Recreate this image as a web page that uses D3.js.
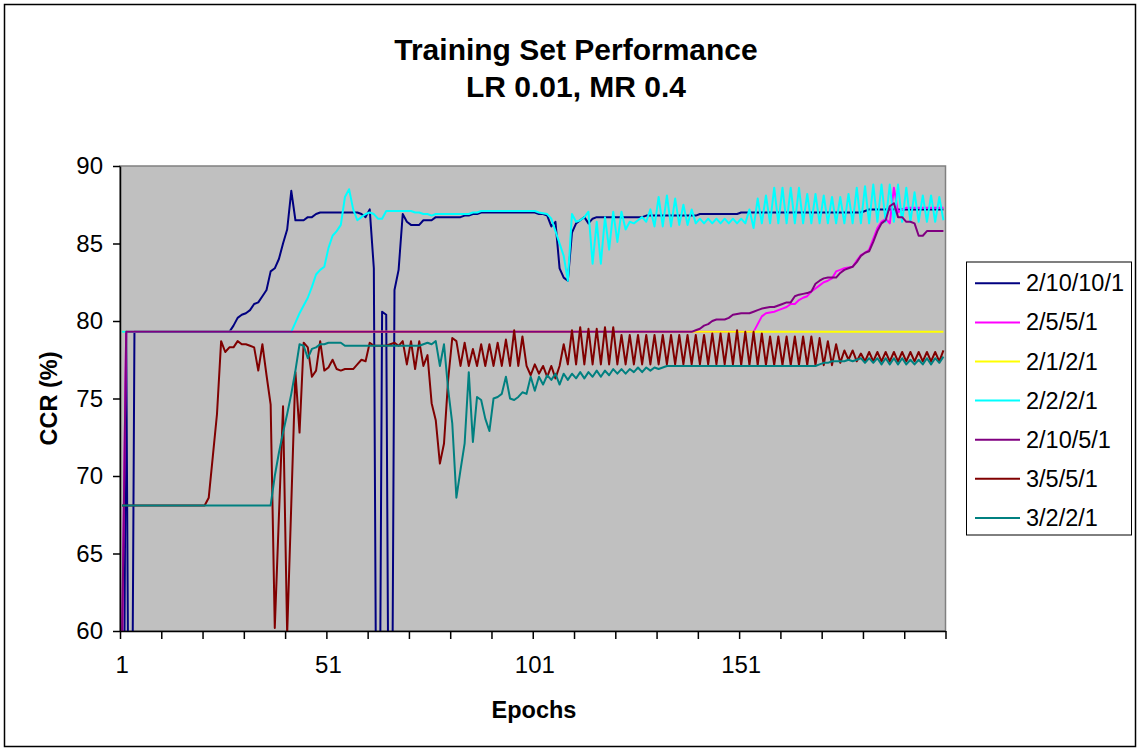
<!DOCTYPE html>
<html>
<head>
<meta charset="utf-8">
<script src="https://cdn.jsdelivr.net/npm/d3@7"></script>
<style>
body { margin: 0; background: #fff; }
text { font-family: "Liberation Sans", Arial, sans-serif; }
</style>
</head>
<body>
<div id="chart"></div>
<script>
var titleLines = ["Training Set Performance", "LR 0.01, MR 0.4"];
var seriesNames = ["2/10/10/1", "2/5/5/1", "2/1/2/1", "2/2/2/1", "2/10/5/1", "3/5/5/1", "3/2/2/1"];
var seriesColors = ["#000080", "#ff00ff", "#ffff00", "#00ffff", "#800080", "#800000", "#008080"];
var yTicks = [60, 65, 70, 75, 80, 85, 90];
var xLabels = [1, 51, 101, 151];
var xTickMarks = [0, 10, 20, 30, 40, 50, 60, 70, 80, 90, 100, 110, 120, 130, 140, 150, 160, 170, 180, 190, 200];

// CCR (%) per epoch, epochs 1..200
var net_2_10_10_1 = [
  31.9, 79.3, 31.9, 79.3, 79.3, 79.3, 79.3, 79.3, 79.3, 79.3,
  79.3, 79.3, 79.3, 79.3, 79.3, 79.3, 79.3, 79.3, 79.3, 79.3,
  79.3, 79.3, 79.3, 79.3, 79.3, 79.3, 79.3, 79.7, 80.2, 80.4,
  80.5, 80.7, 81.1, 81.2, 81.6, 82.0, 83.2, 83.4, 84.0, 85.0,
  85.9, 88.4, 86.5, 86.5, 86.5, 86.7, 86.7, 86.9, 87.0, 87.0,
  87.0, 87.0, 87.0, 87.0, 87.0, 87.0, 87.0, 87.0, 86.9, 86.7,
  87.2, 83.4, 31.9, 80.6, 80.4, 31.9, 82.0, 83.3, 86.9, 86.4,
  86.2, 86.2, 86.2, 86.5, 86.5, 86.5, 86.7, 86.7, 86.7, 86.7,
  86.7, 86.7, 86.7, 86.8, 86.8, 86.9, 86.9, 87.0, 87.0, 87.0,
  87.0, 87.0, 87.0, 87.0, 87.0, 87.0, 87.0, 87.0, 87.0, 87.0,
  87.0, 86.9, 86.9, 86.8, 86.1, 86.4, 83.4, 82.8, 82.6, 85.7,
  86.3, 86.5, 86.7, 86.3, 86.6, 86.7, 86.7, 86.7, 86.7, 86.7,
  86.7, 86.7, 86.7, 86.7, 86.7, 86.7, 86.7, 86.8, 86.8, 86.8,
  86.8, 86.8, 86.8, 86.8, 86.8, 86.8, 86.8, 86.8, 86.8, 86.8,
  86.9, 86.9, 86.9, 86.9, 86.9, 86.9, 86.9, 86.9, 86.9, 86.9,
  87.0, 87.0, 87.0, 87.0, 87.0, 87.0, 87.0, 87.0, 87.0, 87.0,
  87.0, 87.0, 87.0, 87.0, 87.0, 87.0, 87.0, 87.0, 87.0, 87.0,
  87.0, 87.0, 87.0, 87.0, 87.0, 87.0, 87.0, 87.0, 87.0, 87.0,
  87.1, 87.2, 87.2, 87.2, 87.2, 87.2, 87.2, 87.2, 87.2, 87.2,
  87.2, 87.2, 87.2, 87.2, 87.2, 87.2, 87.2, 87.2, 87.2, 87.2
];

var net_2_5_5_1 = [
  59.5, 79.3, 79.3, 79.3, 79.3, 79.3, 79.3, 79.3, 79.3, 79.3,
  79.3, 79.3, 79.3, 79.3, 79.3, 79.3, 79.3, 79.3, 79.3, 79.3,
  79.3, 79.3, 79.3, 79.3, 79.3, 79.3, 79.3, 79.3, 79.3, 79.3,
  79.3, 79.3, 79.3, 79.3, 79.3, 79.3, 79.3, 79.3, 79.3, 79.3,
  79.3, 79.3, 79.3, 79.3, 79.3, 79.3, 79.3, 79.3, 79.3, 79.3,
  79.3, 79.3, 79.3, 79.3, 79.3, 79.3, 79.3, 79.3, 79.3, 79.3,
  79.3, 79.3, 79.3, 79.3, 79.3, 79.3, 79.3, 79.3, 79.3, 79.3,
  79.3, 79.3, 79.3, 79.3, 79.3, 79.3, 79.3, 79.3, 79.3, 79.3,
  79.3, 79.3, 79.3, 79.3, 79.3, 79.3, 79.3, 79.3, 79.3, 79.3,
  79.3, 79.3, 79.3, 79.3, 79.3, 79.3, 79.3, 79.3, 79.3, 79.3,
  79.3, 79.3, 79.3, 79.3, 79.3, 79.3, 79.3, 79.3, 79.3, 79.3,
  79.3, 79.3, 79.3, 79.3, 79.3, 79.3, 79.3, 79.3, 79.3, 79.3,
  79.3, 79.3, 79.3, 79.3, 79.3, 79.3, 79.3, 79.3, 79.3, 79.3,
  79.3, 79.3, 79.3, 79.3, 79.3, 79.3, 79.3, 79.3, 79.3, 79.3,
  79.3, 79.3, 79.3, 79.3, 79.3, 79.3, 79.3, 79.3, 79.3, 79.3,
  79.3, 79.3, 79.3, 79.3, 79.8, 80.3, 80.5, 80.55, 80.6, 80.7,
  80.8, 80.9, 81.1, 81.1, 81.35, 81.5, 81.6, 81.9, 82.1, 82.3,
  82.5, 82.6, 82.75, 83.2, 83.3, 83.4, 83.45, 83.5, 83.9, 84.25,
  84.4, 84.6, 85.3, 86.0, 86.4, 86.6, 86.3, 88.6, 87.0, 87.2,
  87.3, 87.3, 87.3, 87.3, 87.3, 87.3, 87.3, 87.3, 87.3, 87.3
];

var net_2_1_2_1 = [
  79.3, 79.3, 79.3, 79.3, 79.3, 79.3, 79.3, 79.3, 79.3, 79.3,
  79.3, 79.3, 79.3, 79.3, 79.3, 79.3, 79.3, 79.3, 79.3, 79.3,
  79.3, 79.3, 79.3, 79.3, 79.3, 79.3, 79.3, 79.3, 79.3, 79.3,
  79.3, 79.3, 79.3, 79.3, 79.3, 79.3, 79.3, 79.3, 79.3, 79.3,
  79.3, 79.3, 79.3, 79.3, 79.3, 79.3, 79.3, 79.3, 79.3, 79.3,
  79.3, 79.3, 79.3, 79.3, 79.3, 79.3, 79.3, 79.3, 79.3, 79.3,
  79.3, 79.3, 79.3, 79.3, 79.3, 79.3, 79.3, 79.3, 79.3, 79.3,
  79.3, 79.3, 79.3, 79.3, 79.3, 79.3, 79.3, 79.3, 79.3, 79.3,
  79.3, 79.3, 79.3, 79.3, 79.3, 79.3, 79.3, 79.3, 79.3, 79.3,
  79.3, 79.3, 79.3, 79.3, 79.3, 79.3, 79.3, 79.3, 79.3, 79.3,
  79.3, 79.3, 79.3, 79.3, 79.3, 79.3, 79.3, 79.3, 79.3, 79.3,
  79.3, 79.3, 79.3, 79.3, 79.3, 79.3, 79.3, 79.3, 79.3, 79.3,
  79.3, 79.3, 79.3, 79.3, 79.3, 79.3, 79.3, 79.3, 79.3, 79.3,
  79.3, 79.3, 79.3, 79.3, 79.3, 79.3, 79.3, 79.3, 79.3, 79.3,
  79.3, 79.3, 79.3, 79.3, 79.3, 79.3, 79.3, 79.3, 79.3, 79.3,
  79.3, 79.3, 79.3, 79.3, 79.3, 79.3, 79.3, 79.3, 79.3, 79.3,
  79.3, 79.3, 79.3, 79.3, 79.3, 79.3, 79.3, 79.3, 79.3, 79.3,
  79.3, 79.3, 79.3, 79.3, 79.3, 79.3, 79.3, 79.3, 79.3, 79.3,
  79.3, 79.3, 79.3, 79.3, 79.3, 79.3, 79.3, 79.3, 79.3, 79.3,
  79.3, 79.3, 79.3, 79.3, 79.3, 79.3, 79.3, 79.3, 79.3, 79.3
];

var net_2_2_2_1 = [
  79.3, 79.3, 79.3, 79.3, 79.3, 79.3, 79.3, 79.3, 79.3, 79.3,
  79.3, 79.3, 79.3, 79.3, 79.3, 79.3, 79.3, 79.3, 79.3, 79.3,
  79.3, 79.3, 79.3, 79.3, 79.3, 79.3, 79.3, 79.3, 79.3, 79.3,
  79.3, 79.3, 79.3, 79.3, 79.3, 79.3, 79.3, 79.3, 79.3, 79.3,
  79.3, 79.3, 79.9, 80.5, 81.0, 81.5, 82.2, 83.0, 83.3, 83.5,
  84.7, 85.5, 85.8, 86.2, 88.0, 88.5, 87.2, 86.5, 86.7, 86.9,
  87.0, 86.9, 86.6, 86.6, 87.1, 87.1, 87.1, 87.1, 87.1, 87.1,
  87.1, 87.0, 87.0, 86.9, 86.9, 86.8, 86.9, 86.9, 86.9, 86.9,
  86.9, 86.9, 86.9, 86.9, 86.9, 87.0, 87.0, 87.1, 87.1, 87.1,
  87.1, 87.1, 87.1, 87.1, 87.1, 87.1, 87.1, 87.1, 87.1, 87.1,
  87.1, 87.0, 86.95, 86.9, 86.6, 85.8, 85.0, 84.2, 82.6, 86.9,
  86.4, 86.5, 86.7, 87.05, 83.7, 86.4, 83.7, 86.7, 84.6, 87.05,
  85.1, 87.05, 85.9, 86.4, 86.3, 86.5, 86.7, 86.4, 87.2, 86.1,
  88.0, 86.1, 88.1, 86.1, 87.9, 86.2, 87.5, 86.2, 87.2, 86.3,
  86.6, 86.3, 86.6, 86.3, 86.6, 86.3, 86.6, 86.3, 86.6, 86.3,
  86.6, 86.3, 87.2, 86.0, 87.9, 86.3, 88.1, 86.3, 88.6, 86.3,
  88.6, 86.3, 88.6, 86.3, 88.6, 86.3, 88.2, 86.3, 88.2, 86.3,
  88.1, 86.3, 88.0, 86.3, 88.0, 86.3, 88.2, 86.3, 88.6, 86.3,
  88.7, 86.3, 88.8, 86.4, 88.8, 86.4, 88.8, 86.4, 88.8, 86.4,
  88.6, 86.4, 88.3, 86.4, 88.1, 86.4, 88.1, 86.4, 88.0, 86.5
];

var net_2_10_5_1 = [
  59.0, 79.3, 79.3, 79.3, 79.3, 79.3, 79.3, 79.3, 79.3, 79.3,
  79.3, 79.3, 79.3, 79.3, 79.3, 79.3, 79.3, 79.3, 79.3, 79.3,
  79.3, 79.3, 79.3, 79.3, 79.3, 79.3, 79.3, 79.3, 79.3, 79.3,
  79.3, 79.3, 79.3, 79.3, 79.3, 79.3, 79.3, 79.3, 79.3, 79.3,
  79.3, 79.3, 79.3, 79.3, 79.3, 79.3, 79.3, 79.3, 79.3, 79.3,
  79.3, 79.3, 79.3, 79.3, 79.3, 79.3, 79.3, 79.3, 79.3, 79.3,
  79.3, 79.3, 79.3, 79.3, 79.3, 79.3, 79.3, 79.3, 79.3, 79.3,
  79.3, 79.3, 79.3, 79.3, 79.3, 79.3, 79.3, 79.3, 79.3, 79.3,
  79.3, 79.3, 79.3, 79.3, 79.3, 79.3, 79.3, 79.3, 79.3, 79.3,
  79.3, 79.3, 79.3, 79.3, 79.3, 79.3, 79.3, 79.3, 79.3, 79.3,
  79.3, 79.3, 79.3, 79.3, 79.3, 79.3, 79.3, 79.3, 79.3, 79.3,
  79.3, 79.3, 79.3, 79.3, 79.3, 79.3, 79.3, 79.3, 79.3, 79.3,
  79.3, 79.3, 79.3, 79.3, 79.3, 79.3, 79.3, 79.3, 79.3, 79.3,
  79.3, 79.3, 79.3, 79.3, 79.3, 79.3, 79.3, 79.3, 79.3, 79.4,
  79.5, 79.7, 79.8, 80.0, 80.1, 80.1, 80.1, 80.2, 80.4, 80.45,
  80.5, 80.5, 80.5, 80.6, 80.7, 80.8, 80.85, 80.9, 80.9, 81.0,
  81.1, 81.2, 81.2, 81.6, 81.7, 81.75, 81.8, 81.9, 82.4, 82.6,
  82.75, 82.8, 82.8, 82.8, 83.1, 83.3, 83.4, 83.5, 83.8, 84.2,
  84.4, 84.5, 85.1, 85.8, 86.3, 86.5, 87.4, 87.6, 86.7, 86.7,
  86.4, 86.4, 86.3, 85.5, 85.5, 85.8, 85.8, 85.8, 85.8, 85.8
];

var net_3_5_5_1 = [
  68.1, 68.1, 68.1, 68.1, 68.1, 68.1, 68.1, 68.1, 68.1, 68.1,
  68.1, 68.1, 68.1, 68.1, 68.1, 68.1, 68.1, 68.1, 68.1, 68.1,
  68.1, 68.6, 71.3, 74.0, 78.7, 78.0, 78.3, 78.3, 78.7, 78.5,
  78.5, 78.4, 78.3, 76.8, 78.5, 76.5, 74.6, 60.2, 67.4, 74.5,
  59.8, 68.2, 76.7, 72.8, 78.6, 78.3, 76.4, 76.8, 78.7, 76.8,
  77.0, 77.5, 76.9, 76.8, 76.9, 76.9, 76.9, 77.2, 77.5, 77.4,
  78.6, 78.4, 78.4, 78.4, 78.4, 78.5, 78.6, 78.4, 78.7, 77.2,
  78.7, 76.9, 78.7, 77.1, 77.8, 74.7, 73.6, 70.8, 72.1, 76.2,
  78.9, 78.7, 77.1, 78.6, 77.1, 78.2, 77.1, 78.5, 77.1, 78.5,
  77.1, 78.6, 77.1, 78.8, 77.1, 79.4, 77.1, 79.0, 77.1, 76.5,
  77.2, 76.6, 77.1, 76.4, 77.1, 76.3, 77.1, 78.5, 77.2, 79.4,
  77.2, 79.6, 77.2, 79.5, 77.2, 79.5, 77.2, 79.6, 77.2, 79.6,
  77.2, 79.1, 77.2, 79.1, 77.2, 79.1, 77.2, 79.1, 77.2, 79.1,
  77.2, 79.1, 77.2, 79.1, 77.2, 79.1, 77.2, 79.1, 77.2, 79.1,
  77.2, 79.1, 77.2, 79.2, 77.2, 79.2, 77.2, 79.2, 77.2, 79.4,
  77.15, 79.3, 77.15, 79.3, 77.15, 79.2, 77.15, 79.0, 77.15, 79.0,
  77.15, 79.0, 77.15, 79.0, 77.15, 79.0, 77.15, 79.0, 77.15, 78.9,
  77.15, 78.7, 77.15, 78.5, 77.3, 78.1, 77.5, 78.1, 77.4, 77.9,
  77.4, 78.0, 77.4, 78.0, 77.4, 78.0, 77.4, 78.0, 77.4, 78.0,
  77.4, 78.0, 77.4, 78.0, 77.4, 78.0, 77.4, 78.0, 77.4, 78.1
];

var net_3_2_2_1 = [
  68.1, 68.1, 68.1, 68.1, 68.1, 68.1, 68.1, 68.1, 68.1, 68.1,
  68.1, 68.1, 68.1, 68.1, 68.1, 68.1, 68.1, 68.1, 68.1, 68.1,
  68.1, 68.1, 68.1, 68.1, 68.1, 68.1, 68.1, 68.1, 68.1, 68.1,
  68.1, 68.1, 68.1, 68.1, 68.1, 68.1, 68.1, 70.0, 71.5, 72.8,
  74.0, 75.3, 76.8, 78.5, 78.4, 77.6, 78.2, 78.3, 78.5, 78.5,
  78.6, 78.6, 78.6, 78.6, 78.4, 78.4, 78.4, 78.4, 78.4, 78.4,
  78.4, 78.4, 78.4, 78.4, 78.4, 78.4, 78.4, 78.4, 78.4, 78.4,
  78.4, 78.4, 78.4, 78.5, 78.6, 78.5, 78.7, 77.1, 78.5, 75.6,
  73.4, 68.6, 70.4, 72.1, 76.7, 72.2, 75.1, 74.9, 73.7, 72.9,
  75.0, 75.1, 75.3, 76.4, 75.0, 74.9, 75.1, 75.4, 75.3, 76.4,
  75.5, 76.4, 75.9, 76.5, 76.2, 76.6, 75.9, 76.6, 76.2, 76.6,
  76.3, 76.7, 76.3, 76.7, 76.4, 76.8, 76.4, 76.8, 76.5, 76.9,
  76.6, 76.9, 76.6, 76.9, 76.7, 77.0, 76.7, 77.0, 76.8, 77.0,
  76.9, 77.0, 77.1, 77.1, 77.1, 77.1, 77.1, 77.1, 77.1, 77.1,
  77.1, 77.1, 77.1, 77.1, 77.1, 77.1, 77.1, 77.1, 77.1, 77.1,
  77.1, 77.1, 77.1, 77.1, 77.1, 77.1, 77.1, 77.1, 77.1, 77.1,
  77.1, 77.1, 77.1, 77.1, 77.1, 77.1, 77.1, 77.1, 77.1, 77.2,
  77.3, 77.3, 77.4, 77.4, 77.4, 77.4, 77.5, 77.4, 77.5, 77.6,
  77.3, 77.6, 77.3, 77.6, 77.2, 77.6, 77.2, 77.6, 77.2, 77.6,
  77.2, 77.5, 77.2, 77.5, 77.2, 77.6, 77.2, 77.6, 77.3, 77.7
];

var seriesValues = [net_2_10_10_1, net_2_5_5_1, net_2_1_2_1, net_2_2_2_1, net_2_10_5_1, net_3_5_5_1, net_3_2_2_1];
var epochs = net_2_1_2_1.map(function(d, i) { return i + 1; });

var width = 1140, height = 750;
var plotLeft = 120, plotRight = 945.5, plotTop = 166, plotBottom = 631;

var svg = d3.select("#chart").append("svg")
  .attr("width", width)
  .attr("height", height);

// outer chart frame
svg.append("rect")
  .attr("x", 4.5).attr("y", 4.5)
  .attr("width", 1131).attr("height", 742)
  .attr("fill", "#fff")
  .attr("stroke", "#000")
  .attr("stroke-width", 1.5);

var x = d3.scaleBand().domain(epochs).range([plotLeft, plotRight]);
var xEdge = d3.scaleLinear().domain([0, 200]).range([plotLeft, plotRight]);
var y = d3.scaleLinear().domain([60, 90]).range([plotBottom, plotTop]);

svg.append("defs").append("clipPath").attr("id", "plotclip")
  .append("rect")
  .attr("x", plotLeft).attr("y", plotTop)
  .attr("width", plotRight - plotLeft).attr("height", plotBottom - plotTop);

svg.append("rect")
  .attr("x", plotLeft).attr("y", plotTop)
  .attr("width", plotRight - plotLeft).attr("height", plotBottom - plotTop)
  .attr("fill", "#c0c0c0")
  .attr("stroke", "#808080")
  .attr("stroke-width", 1.5);

// series lines
var line = d3.line()
  .x(function(d, i) { return x(epochs[i]) + x.bandwidth() / 2; })
  .y(function(d) { return y(d); });

svg.append("g").attr("clip-path", "url(#plotclip)")
  .selectAll("path")
  .data(seriesValues)
  .enter()
  .append("path")
  .attr("d", line)
  .attr("fill", "none")
  .attr("stroke", function(d, i) { return seriesColors[i]; })
  .attr("stroke-width", 2)
  .attr("stroke-linejoin", "round");

// y axis
var yAxis = svg.append("g")
  .attr("transform", "translate(" + plotLeft + ",0)")
  .call(d3.axisLeft(y).tickValues(yTicks).tickSize(7).tickSizeOuter(0).tickPadding(10));

// x axis tick marks every 10 epochs
var xTickAxis = svg.append("g")
  .attr("transform", "translate(0," + plotBottom + ")")
  .call(d3.axisBottom(xEdge).tickValues(xTickMarks).tickSize(8).tickSizeOuter(0).tickFormat(""));

// x axis labels on categories
var xLabelAxis = svg.append("g")
  .attr("transform", "translate(0," + plotBottom + ")")
  .call(d3.axisBottom(x).tickValues(xLabels).tickSize(0).tickPadding(25));
xLabelAxis.select(".domain").remove();

[yAxis, xTickAxis].forEach(function(g) {
  g.select(".domain").attr("stroke", "#000").attr("stroke-width", 1.5);
  g.selectAll(".tick line").attr("stroke", "#000").attr("stroke-width", 1.5);
});
[yAxis, xLabelAxis].forEach(function(g) {
  g.selectAll("text")
    .attr("font-family", "Liberation Sans, Arial, sans-serif")
    .attr("font-size", 24)
    .attr("fill", "#000");
});

// titles
svg.selectAll(".title")
  .data(titleLines)
  .enter()
  .append("text")
  .attr("class", "title")
  .attr("x", 576)
  .attr("y", function(d, i) { return 59.5 + i * 37; })
  .attr("text-anchor", "middle")
  .attr("font-size", 30)
  .attr("font-weight", "bold")
  .text(function(d) { return d; });

svg.append("text")
  .attr("x", 534)
  .attr("y", 718)
  .attr("text-anchor", "middle")
  .attr("font-size", 23.5)
  .attr("font-weight", "bold")
  .text("Epochs");

svg.append("text")
  .attr("transform", "translate(57," + (plotTop + plotBottom) / 2 + ") rotate(-90)")
  .attr("text-anchor", "middle")
  .attr("font-size", 23.5)
  .attr("font-weight", "bold")
  .text("CCR (%)");

// legend
var legend = svg.append("g");
legend.append("rect")
  .attr("x", 966.5).attr("y", 262)
  .attr("width", 165).attr("height", 273)
  .attr("fill", "#fff")
  .attr("stroke", "#000")
  .attr("stroke-width", 1);

var entry = legend.selectAll(".entry")
  .data(seriesNames)
  .enter()
  .append("g")
  .attr("class", "entry")
  .attr("transform", function(d, i) { return "translate(0," + (283.3 + i * 39.1) + ")"; });

entry.append("line")
  .attr("x1", 975).attr("x2", 1020)
  .attr("stroke", function(d, i) { return seriesColors[i]; })
  .attr("stroke-width", 2);

entry.append("text")
  .attr("x", 1026)
  .attr("y", 8)
  .attr("font-size", 23.5)
  .text(function(d) { return d; });
</script>
</body>
</html>
